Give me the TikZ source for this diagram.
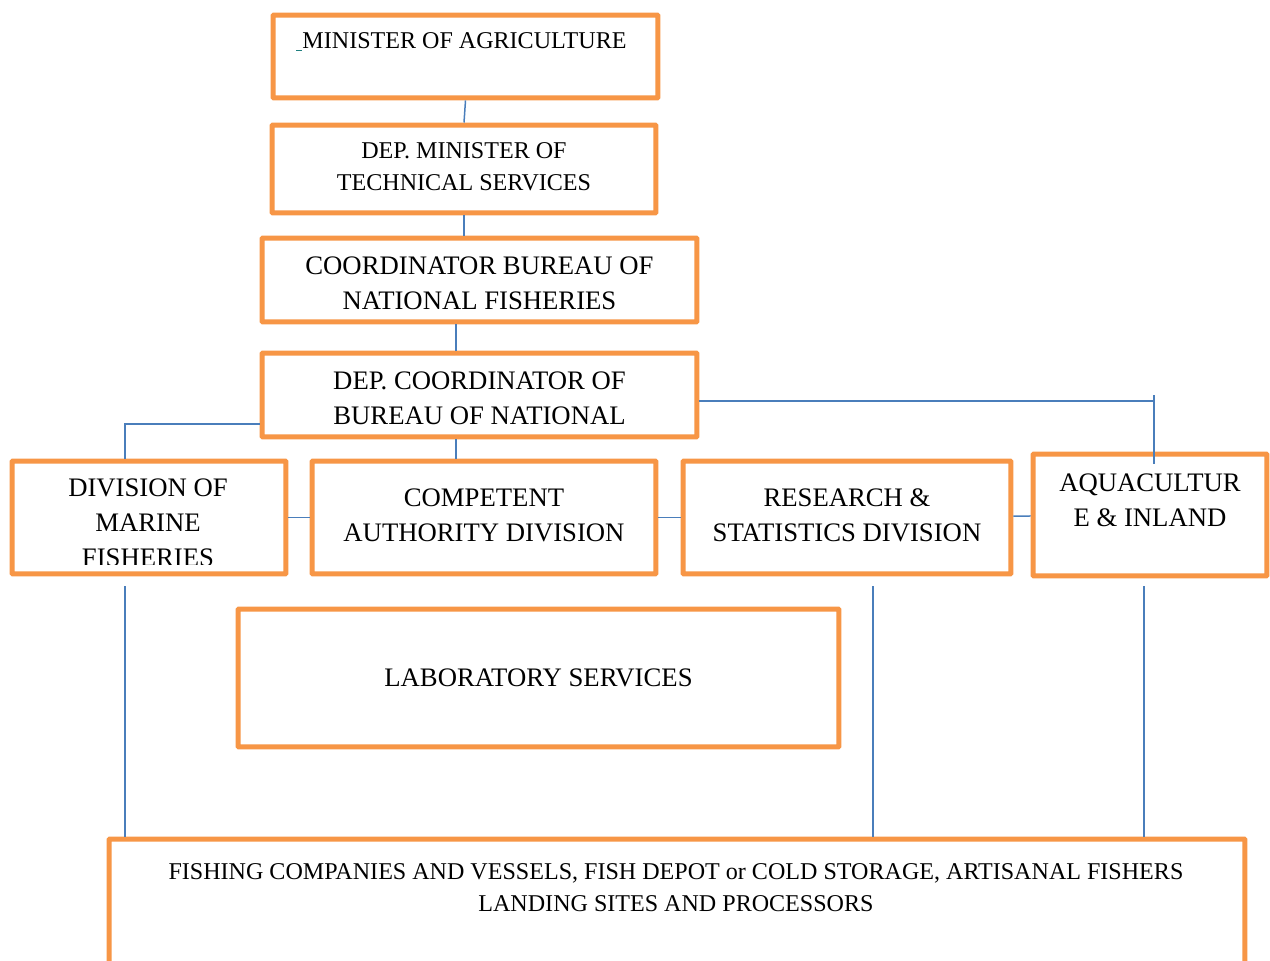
\documentclass[tikz,border=0pt]{standalone}
\usepackage{fontspec}
\setmainfont{Liberation Serif}
\usepackage{tikz}
\usetikzlibrary{positioning,calc}
\definecolor{boxorange}{HTML}{F79646}
\definecolor{linkblue}{HTML}{4A7EBB}
\definecolor{markteal}{HTML}{1F7F7F}
\newcommand{\smalltxt}{\fontsize{13.7pt}{18pt}\selectfont}
\newcommand{\bigtxt}{\fontsize{15.2pt}{19.9pt}\selectfont}

\begin{document}
\begin{tikzpicture}[
  x=0.02cm,y=-0.02cm,
  font=\bigtxt,
  box/.style={rectangle,draw=boxorange,line width=0.1cm,fill=white,align=center,inner sep=0pt,rounded corners=0.5pt},
  txt/.style={align=center,inner sep=0pt},
  link/.style={draw=linkblue,line width=0.03cm}
]
\useasboundingbox (0,0) rectangle (1270,960);
\clip (0,0) rectangle (1270,960);

% management chain
\node[box,minimum width=7.70cm,minimum height=1.66cm] (min) at (465.5,56.5) {};
\node[txt,font=\smalltxt] (min-t) at (461.5,42) {{\color{markteal}\rule[-0.04cm]{0.12cm}{0.025cm}}MINISTER OF AGRICULTURE};
\node[box,minimum width=7.68cm,minimum height=1.76cm] (dmin) at (464,169) {};
\node[txt,font=\smalltxt] (dmin-t) at (464,166.5) {DEP. MINISTER OF\\TECHNICAL SERVICES};
\node[box,minimum width=8.70cm,minimum height=1.68cm] (coord) at (479.5,280) {};
\node[txt] (coord-t) at (479.5,283.5) {COORDINATOR BUREAU OF\\NATIONAL FISHERIES};
\node[box,minimum width=8.70cm,minimum height=1.68cm] (dcoord) at (479.5,395) {};
\node[txt] (dcoord-t) at (479.5,398.5) {DEP. COORDINATOR OF\\BUREAU OF NATIONAL};

% divisions
\node[box,minimum width=5.48cm,minimum height=2.26cm] (dmf) at (149,517.5) {};
\begin{scope}
  \clip (dmf.north west) rectangle ([yshift=0.24cm]dmf.south east);
  \node[txt] (dmf-t) at (148,523) {DIVISION OF\\MARINE\\FISHERIES};
\end{scope}
\node[box,minimum width=6.88cm,minimum height=2.26cm] (comp) at (484,517.5) {};
\node[txt] (comp-t) at (484,515.5) {COMPETENT\\AUTHORITY DIVISION};
\node[box,minimum width=6.56cm,minimum height=2.26cm] (res) at (847,517.5) {};
\node[txt] (res-t) at (847,515) {RESEARCH \&\\STATISTICS DIVISION};
\node[box,minimum width=4.68cm,minimum height=2.44cm] (aqua) at (1150,515) {};
\node[txt] (aqua-t) at (1150,500) {AQUACULTUR\\E \& INLAND};

\node[box,minimum width=12.02cm,minimum height=2.76cm] (lab) at (538.5,678) {LABORATORY SERVICES};

\node[box,minimum width=22.72cm,minimum height=3.96cm] (fish) at (677,938) {};
\node[txt,font=\smalltxt] (fish-t) at (676,887.5) {FISHING COMPANIES AND VESSELS, FISH DEPOT or COLD STORAGE, ARTISANAL FISHERS\\LANDING SITES AND PROCESSORS};

% links
\draw[link] (min.south) -- (dmin.north);
\draw[link] (dmin.south) -- (dmin.south |- coord.north);
\draw[link] ([xshift=-0.47cm]coord.south) -- ([xshift=-0.47cm]dcoord.north);
\draw[link] ([yshift=-0.58cm]dcoord.west) -| ([xshift=-0.48cm]dmf.north);
\draw[link] ([xshift=-0.47cm]dcoord.south) -- ([xshift=-0.47cm]dcoord.south |- comp.north);
\coordinate (aq-top) at ([xshift=0.08cm,yshift=-0.24cm]aqua.north);
\draw[link] ([yshift=-0.12cm]dcoord.east) -| (aq-top);
\draw[link] (aq-top) -- (aq-top |- dcoord.east);
\draw[link] (dmf) -- (comp);
\draw[link] (comp) -- (res);
\draw[link] (res) -- (aqua);
\draw[link] ([xshift=-0.48cm,yshift=-0.2cm]dmf.south) -- ([xshift=-0.48cm]dmf.south |- fish.north);
\draw[link] ([xshift=0.52cm,yshift=-0.2cm]res.south) -- ([xshift=0.52cm]res.south |- fish.north);
\draw[link] ([xshift=-0.12cm,yshift=-0.16cm]aqua.south) -- ([xshift=-0.12cm]aqua.south |- fish.north);
\end{tikzpicture}
\end{document}
